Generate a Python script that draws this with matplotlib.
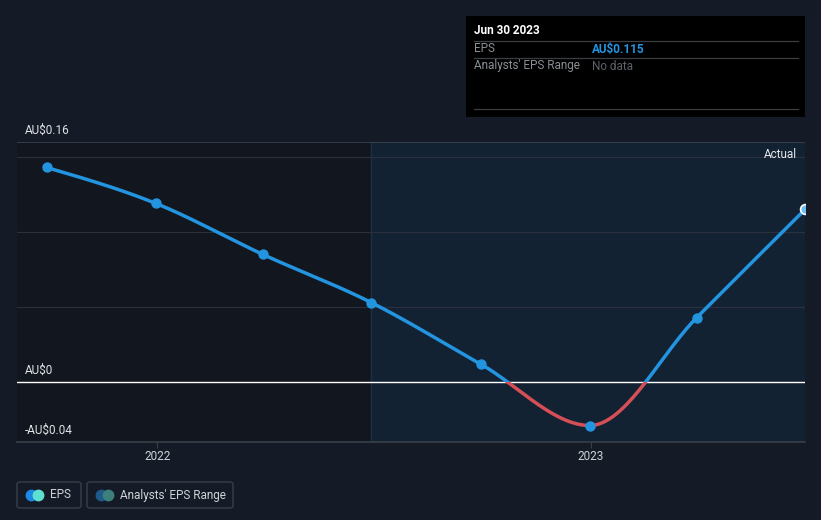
import numpy as np
import matplotlib
matplotlib.use("Agg")
import matplotlib.pyplot as plt
import matplotlib.dates as mdates
from matplotlib.patches import Rectangle, FancyBboxPatch

plt.rcParams['font.family'] = ['Roboto', 'DejaVu Sans']

# data
dates = ["2021-09-30", "2021-12-31", "2022-03-31", "2022-06-30",
         "2022-09-30", "2022-12-31", "2023-03-31", "2023-06-30"]
eps = [0.143, 0.119, 0.085, 0.053, 0.012, -0.029, 0.043, 0.115]
y_ticks = [0.16, 0.0, -0.04]
y_labels = ["AU$0.16", "AU$0", "-AU$0.04"]
grid_vals = [0.05, 0.10, 0.15]
x_ticks = ["2022-01-01", "2023-01-01"]
x_labels = ["2022", "2023"]

BG = "#151b26"
BLUE = "#2394df"
RED = "#d64f57"

W, H = 821, 520
fig = plt.figure(figsize=(W / 100, H / 100), dpi=100, facecolor=BG)


def fx(px):
    return px / W


def fy(py):
    return 1 - py / H


ax = fig.add_axes([fx(17), fy(442), fx(805) - fx(17), fy(142) - fy(442)])
ax.set_facecolor("#12171f")

x = mdates.date2num([np.datetime64(d) for d in dates])
y = np.array(eps)
x0 = mdates.date2num(np.datetime64("2021-09-05"))
x1 = x[-1]
ax.set_xlim(x0, x1)
ax.set_ylim(-0.04, 0.16)

# shaded area after the split
split = x[3]
ax.axvspan(split, x1, color="#132233", zorder=0)
ax.axvline(split, color="#1b3048", lw=1, zorder=1)

for g in grid_vals:
    ax.axhline(g, color="#2a313c", lw=0.8, zorder=1)
ax.axhline(0.16, color="#3c434e", lw=1.2, zorder=1)
ax.axhline(0, color="white", lw=1, zorder=2)


# monotone cubic (d3 curveMonotoneX style)
def monotone_curve(xs, ys, n=60):
    xs = np.asarray(xs, float)
    ys = np.asarray(ys, float)
    h = np.diff(xs)
    s = np.diff(ys) / h
    t = np.zeros(len(xs))
    for i in range(1, len(xs) - 1):
        p = (s[i - 1] * h[i] + s[i] * h[i - 1]) / (h[i - 1] + h[i])
        t[i] = (np.sign(s[i - 1]) + np.sign(s[i])) * min(abs(s[i - 1]), abs(s[i]), 0.5 * abs(p))
    t[0] = (3 * s[0] - t[1]) / 2
    t[-1] = (3 * s[-1] - t[-2]) / 2
    cx, cy = [], []
    for i in range(len(xs) - 1):
        u = np.linspace(0, 1, n)
        h00 = 2 * u**3 - 3 * u**2 + 1
        h10 = u**3 - 2 * u**2 + u
        h01 = -2 * u**3 + 3 * u**2
        h11 = u**3 - u**2
        cx.append(xs[i] + u * h[i])
        cy.append(h00 * ys[i] + h10 * h[i] * t[i] + h01 * ys[i + 1] + h11 * h[i] * t[i + 1])
    return np.concatenate(cx), np.concatenate(cy)


cx, cy = monotone_curve(x, y)
top = Rectangle((x0, 0), x1 - x0, 1, transform=ax.transData)
bot = Rectangle((x0, -1), x1 - x0, 1, transform=ax.transData)
lb, = ax.plot(cx, cy, color=BLUE, lw=2.5, zorder=3, solid_capstyle="round")
lb.set_clip_path(top)
lr, = ax.plot(cx, cy, color=RED, lw=2.5, zorder=3, solid_capstyle="round")
lr.set_clip_path(bot)

ax.scatter(x[:-1], y[:-1], s=42, color=BLUE, zorder=4)
last = ax.scatter(x[-1:], y[-1:], s=50, color="#6cbcf2", edgecolors="white",
                  linewidths=1.2, zorder=4)
last.set_clip_path(ax.patch)

for sp in ax.spines.values():
    sp.set_visible(False)
ax.spines["bottom"].set_visible(True)
ax.spines["bottom"].set_color("#3a404a")
ax.spines["bottom"].set_linewidth(1.2)
ax.set_yticks([])
ax.set_xticks(mdates.date2num([np.datetime64(d) for d in x_ticks]))
ax.set_xticklabels(x_labels, color="#cfd3d8", fontsize=8.5)
ax.tick_params(axis="x", length=4, color="#3a404a", pad=2)

for v, lab in zip(y_ticks, y_labels):
    py = 382 - v * 1500 - 12
    fig.text(fx(25), fy(py), lab, color="#e0e3e6", fontsize=8.5, va="center", ha="left")

fig.text(fx(797), fy(154), "Actual", color="#e6e8eb", fontsize=8.5, va="center", ha="right")

# tooltip box
fig.patches.append(Rectangle((fx(466), fy(117)), fx(805) - fx(466), fy(16) - fy(117),
                             transform=fig.transFigure, facecolor="black", edgecolor="none", zorder=5))
for ly in [41, 58, 109]:
    fig.add_artist(plt.Line2D([fx(474), fx(798)], [fy(ly), fy(ly)], transform=fig.transFigure,
                              color="#3a3d42", lw=0.9, zorder=6))
fig.text(fx(474), fy(31), "Jun 30 2023", color="white", fontsize=8.5, fontweight="bold",
         va="center", zorder=7)
fig.text(fx(474), fy(49), "EPS", color="#8a8f96", fontsize=8.5, va="center", zorder=7)
fig.text(fx(592), fy(49), "AU$0.115", color=BLUE, fontsize=8.5, fontweight="bold",
         va="center", zorder=7)
fig.text(fx(474), fy(66), "Analysts' EPS Range", color="#8a8f96", fontsize=8.5,
         va="center", zorder=7)
fig.text(fx(592), fy(66), "No data", color="#5d6168", fontsize=8.5, va="center", zorder=7)

# legend
legend_items = [("EPS", 17, 81, "#1e88e5", "#5ee0d0"),
                ("Analysts' EPS Range", 87, 233, "#1d5a8a", "#3d7f7a")]
for label, l, r, c1, c2 in legend_items:
    fig.patches.append(FancyBboxPatch((fx(l), fy(508)), fx(r) - fx(l), fy(482) - fy(508),
                                      boxstyle="round,pad=0,rounding_size=0.004",
                                      transform=fig.transFigure, facecolor="none",
                                      edgecolor="#3a404a", lw=1))
    fig.add_artist(plt.Line2D([fx(l + 14)], [fy(495)], marker="o", markersize=7.5,
                              color=c1, transform=fig.transFigure, lw=0))
    fig.add_artist(plt.Line2D([fx(l + 21)], [fy(495)], marker="o", markersize=7.5,
                              color=c2, transform=fig.transFigure, lw=0))
    fig.text(fx(l + 33), fy(495), label, color="#cfd3d8", fontsize=8.5, va="center")

fig.savefig("out.png", dpi=100, facecolor=BG)
